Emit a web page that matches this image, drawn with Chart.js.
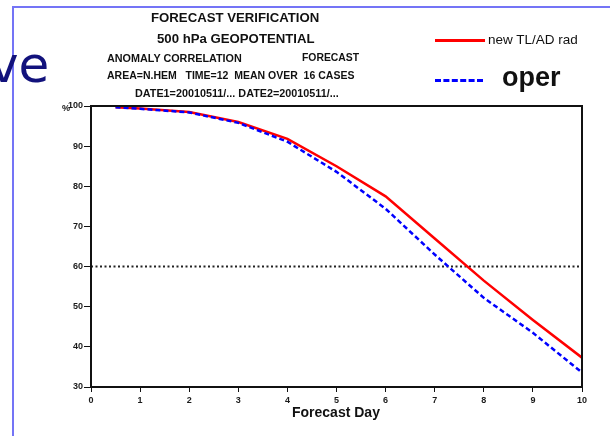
<!DOCTYPE html>
<html>
<head>
<meta charset="utf-8">
<script src="https://cdn.jsdelivr.net/npm/chart.js@4"></script>
<style>
  body { margin: 0; background: #fff; }
  #wrap { position: relative; width: 610px; height: 436px; overflow: hidden; font-family: "Liberation Sans", Arial, sans-serif; }
  #myChart { position: absolute; left: 0; top: 0; }
  .t { position: absolute; white-space: nowrap; color: #111; font-weight: bold; line-height: 1; }
  .frameV { position: absolute; left: 12px; top: 6px; width: 2px; height: 430px; background: #7474f6; }
  .frameH { position: absolute; left: 12px; top: 6px; width: 598px; height: 2px; background: #7474f6; }
  .ve { position: absolute; left: -11px; top: 40px; line-height: 1; font-family: "DejaVu Sans", sans-serif; font-size: 50px; color: #12127c; }
  .legLine { position: absolute; left: 435px; width: 50px; }
</style>
</head>
<body>
<div id="wrap">
  <canvas id="myChart" width="610" height="436"></canvas>
  <div class="frameV"></div>
  <div class="frameH"></div>
  <div class="ve">ve</div>

  <div class="t" style="left:151px;top:11px;font-size:13.2px;">FORECAST VERIFICATION</div>
  <div class="t" style="left:157px;top:32px;font-size:13.2px;">500 hPa GEOPOTENTIAL</div>
  <div class="t" style="left:107px;top:53px;font-size:10.8px;">ANOMALY CORRELATION</div>
  <div class="t" style="left:302px;top:53px;font-size:10.4px;">FORECAST</div>
  <div class="t" style="left:107px;top:70px;font-size:10.5px;">AREA=N.HEM&nbsp;&nbsp; TIME=12&nbsp; MEAN OVER&nbsp; 16 CASES</div>
  <div class="t" style="left:135px;top:88px;font-size:10.8px;">DATE1=20010511/... DATE2=20010511/...</div>

  <div class="legLine" style="top:39px;border-top:3px solid #ff0000;"></div>
  <div class="t" style="left:488px;top:33px;font-size:13.5px;font-weight:normal;">new TL/AD rad</div>
  <div class="legLine" style="top:79px;width:48px;border-top:3px dashed #0000ff;"></div>
  <div class="t" style="left:502px;top:64px;font-size:27px;">oper</div>

  <div class="t" style="left:62px;top:104px;font-size:9px;">%</div>
  <div class="t" style="left:292px;top:405px;font-size:14px;">Forecast Day</div>
</div>

<script>
// forecast days and anomaly correlation (%)
const days = [0.5, 1, 2, 3, 4, 5, 6, 7, 8, 9, 10];
const newTlAd = [99.7, 99.4, 98.5, 96.0, 91.8, 85.0, 77.5, 67.0, 56.5, 46.7, 37.3];
const oper = [99.7, 99.3, 98.4, 95.8, 91.1, 83.6, 74.4, 63.0, 52.2, 43.5, 33.6];
const refDays = [0, 10];
const refLevel = [60, 60];
const xTicks = [0, 1, 2, 3, 4, 5, 6, 7, 8, 9, 10];
const yTicks = [30, 40, 50, 60, 70, 80, 90, 100];

const toPoints = (xs, ys) => xs.map((x, i) => ({x: x, y: ys[i]}));

// black box round the plot
const frameBox = {
  id: 'frameBox',
  afterDatasetsDraw(chart) {
    const a = chart.chartArea;
    const ctx = chart.ctx;
    ctx.save();
    ctx.strokeStyle = '#111';
    ctx.lineWidth = 2;
    ctx.strokeRect(a.left, a.top, a.right - a.left, a.bottom - a.top);
    ctx.restore();
  }
};

const tickFont = {family: '"Liberation Sans", Arial, sans-serif', size: 9, weight: 'bold'};

new Chart(document.getElementById('myChart'), {
  type: 'line',
  data: {
    datasets: [
      {
        label: 'oper',
        data: toPoints(days, oper),
        borderColor: '#0000ff',
        borderWidth: 2.5,
        borderDash: [5, 3],
        pointRadius: 0,
        tension: 0,
        order: 0
      },
      {
        label: 'new TL/AD rad',
        data: toPoints(days, newTlAd),
        borderColor: '#ff0000',
        borderWidth: 2.5,
        pointRadius: 0,
        tension: 0,
        order: 1
      },
      {
        label: '60%',
        data: toPoints(refDays, refLevel),
        borderColor: '#222',
        borderWidth: 2,
        borderDash: [2, 2.5],
        pointRadius: 0,
        order: 2
      }
    ]
  },
  options: {
    responsive: false,
    animation: false,
    events: [],
    layout: {padding: {left: 51, top: 106, right: 28, bottom: 24}},
    plugins: {legend: {display: false}, tooltip: {enabled: false}},
    scales: {
      x: {
        type: 'linear',
        min: 0,
        max: 10,
        afterFit: s => { s.height = 25; },
        afterBuildTicks: s => { s.ticks = xTicks.map(v => ({value: v})); },
        border: {display: true, color: '#111', width: 2},
        grid: {display: true, drawOnChartArea: false, drawTicks: true, tickLength: 5, color: '#111', lineWidth: 1},
        ticks: {color: '#1a1a1a', font: tickFont, padding: 3, maxRotation: 0}
      },
      y: {
        min: 30,
        max: 100,
        afterFit: s => { s.width = 40; },
        afterBuildTicks: s => { s.ticks = yTicks.map(v => ({value: v})); },
        border: {display: true, color: '#111', width: 2},
        grid: {display: true, drawOnChartArea: false, drawTicks: true, tickLength: 7, color: '#111', lineWidth: 1},
        ticks: {color: '#1a1a1a', font: tickFont, padding: 1}
      }
    }
  },
  plugins: [frameBox]
});
</script>
</body>
</html>
